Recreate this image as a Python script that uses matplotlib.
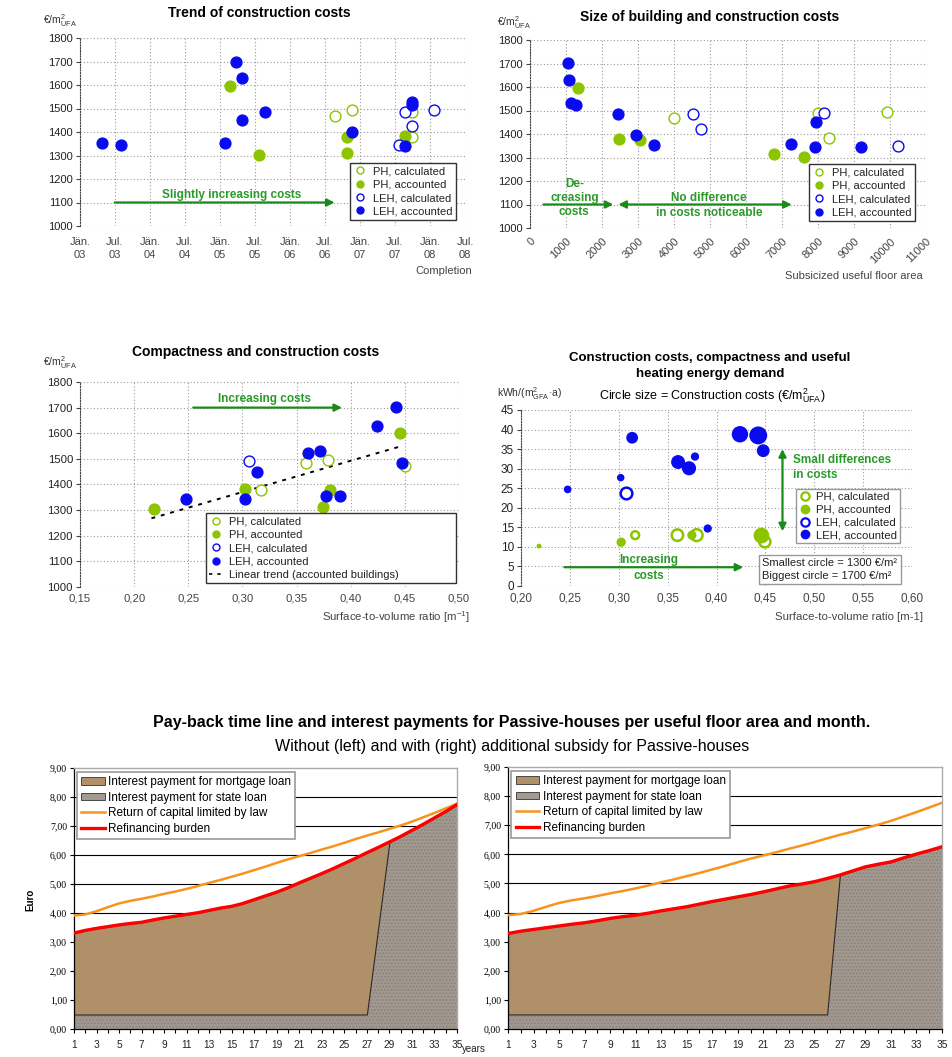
import numpy as np
import pandas as pd
import matplotlib
matplotlib.use("Agg")
import matplotlib.pyplot as plt
import matplotlib.dates as mdates
from matplotlib.lines import Line2D
from matplotlib.patches import Patch
from matplotlib.ticker import FuncFormatter

plt.rcParams['font.family'] = ['Liberation Sans', 'DejaVu Sans']
plt.rcParams['mathtext.fontset'] = 'custom'
plt.rcParams['mathtext.rm'] = 'Liberation Sans'
plt.rcParams['mathtext.it'] = 'Liberation Sans:italic'
plt.rcParams['mathtext.bf'] = 'Liberation Sans:bold'
plt.rcParams['hatch.linewidth'] = 1.0

W, H = 953, 1057

GREEN = '#8cc400'
BLUE = '#0a0af0'
ARROW = '#1a8a1a'
GRID = '#9a9a9a'
ORANGE = '#f7941d'
RED = '#ff0000'
PAPER = '#b09068'
GRANITE = '#a39a92'

# ---------- Trend of construction costs (completion date / cost) ----------
ph_calc_dates = ['2006-08-21', '2006-11-21', '2007-09-28', '2007-09-28']
ph_calc_cost = [1467, 1495, 1380, 1487]
ph_acc_dates = ['2005-02-21', '2005-07-25', '2006-10-25', '2006-10-25', '2007-08-25']
ph_acc_cost = [1597, 1302, 1377, 1310, 1382]
leh_calc_dates = ['2007-07-21', '2007-08-21', '2007-09-28', '2008-01-21']
leh_calc_cost = [1343, 1487, 1427, 1493]
leh_acc_dates = ['2003-04-28', '2003-08-01', '2005-01-28', '2005-03-25', '2005-04-25',
                 '2005-04-25', '2005-08-25', '2006-11-21', '2007-08-25', '2007-09-28', '2007-09-28']
leh_acc_cost = [1355, 1345, 1355, 1700, 1628, 1450, 1483, 1398, 1340, 1528, 1515]
date_ticklabels = ['Jän.\n03', 'Jul.\n03', 'Jän.\n04', 'Jul.\n04', 'Jän.\n05', 'Jul.\n05',
                   'Jän.\n06', 'Jul.\n06', 'Jän.\n07', 'Jul.\n07', 'Jän.\n08', 'Jul.\n08']

# ---------- Size of building (subsidized useful floor area / cost) ----------
ph_calc_area = [4000, 8009, 8315, 9926]
ph_calc_area_cost = [1467, 1488, 1382, 1494]
ph_acc_area = [1324, 2463, 3065, 6778, 7611]
ph_acc_area_cost = [1597, 1379, 1375, 1314, 1301]
leh_calc_area = [4537, 4741, 8167, 10213]
leh_calc_area_cost = [1484, 1423, 1491, 1347]
leh_acc_area = [1046, 1093, 1130, 1278, 2444, 2935, 3435, 7250, 7917, 7944, 9185]
leh_acc_area_cost = [1701, 1629, 1531, 1522, 1484, 1395, 1354, 1357, 1343, 1449, 1343]

# ---------- Compactness (surface-to-volume ratio / cost) ----------
ph_calc_sv = [0.3176, 0.359, 0.379, 0.4498]
ph_calc_sv_cost = [1380, 1485, 1497, 1471]
ph_acc_sv = [0.2186, 0.302, 0.374, 0.3806, 0.4458]
ph_acc_sv_cost = [1303, 1381, 1312, 1377, 1600]
leh_calc_sv = [0.306]
leh_calc_sv_cost = [1493]
leh_acc_sv = [0.2478, 0.302, 0.3136, 0.3607, 0.3714, 0.377, 0.3905, 0.4243, 0.442, 0.4474]
leh_acc_sv_cost = [1345, 1342, 1449, 1523, 1531, 1357, 1357, 1628, 1702, 1484]
trend_sv = [0.216, 0.447]
trend_cost = [1268, 1550]

# ---------- Bubbles: s/v ratio, heating demand, cost ----------
b_ph_calc_sv = [0.3168, 0.360, 0.3797, 0.4495]
b_ph_calc_heat = [13.0, 13.0, 13.0, 11.3]
b_ph_calc_cost = [1380, 1485, 1497, 1471]
b_ph_acc_sv = [0.2184, 0.3025, 0.3748, 0.446]
b_ph_acc_heat = [10.2, 11.2, 13.0, 12.9]
b_ph_acc_cost = [1303, 1381, 1377, 1600]
b_leh_calc_sv = [0.3072]
b_leh_calc_heat = [23.7]
b_leh_calc_cost = [1493]
b_leh_acc_sv = [0.2477, 0.302, 0.3137, 0.3607, 0.3719, 0.378, 0.391, 0.424, 0.4427, 0.4478]
b_leh_acc_heat = [24.7, 27.7, 37.9, 31.7, 30.1, 33.1, 14.7, 38.8, 38.5, 34.6]
b_leh_acc_cost = [1345, 1342, 1449, 1523, 1531, 1357, 1357, 1628, 1702, 1484]

# ---------- Pay-back time line (Euro per m2 and month) ----------
years = list(range(1, 36))
capital_return = [3.91, 3.95, 4.06, 4.20, 4.33, 4.42, 4.49, 4.57, 4.66, 4.74,
                  4.83, 4.93, 5.04, 5.14, 5.25, 5.36, 5.48, 5.60, 5.73, 5.85,
                  5.96, 6.07, 6.19, 6.30, 6.42, 6.55, 6.67, 6.78, 6.90, 7.02,
                  7.15, 7.30, 7.45, 7.61, 7.77]
refin_left = [3.31, 3.40, 3.47, 3.53, 3.59, 3.64, 3.68, 3.76, 3.83, 3.89,
              3.95, 4.01, 4.09, 4.17, 4.23, 4.33, 4.46, 4.59, 4.72, 4.87,
              5.04, 5.20, 5.36, 5.53, 5.71, 5.89, 6.08, 6.26, 6.45, 6.64,
              6.85, 7.06, 7.28, 7.50, 7.74]
state_left = [0.5] * 27 + [3.47, 6.45, 6.64, 6.85, 7.06, 7.28, 7.50, 7.74]
refin_right = [3.28, 3.36, 3.42, 3.48, 3.54, 3.60, 3.65, 3.72, 3.80, 3.86,
               3.91, 3.98, 4.06, 4.13, 4.20, 4.29, 4.38, 4.46, 4.54, 4.62,
               4.71, 4.81, 4.91, 4.98, 5.06, 5.17, 5.29, 5.43, 5.57, 5.66,
               5.74, 5.88, 6.01, 6.13, 6.26]
state_right = [0.5] * 26 + [5.29, 5.43, 5.57, 5.66, 5.74, 5.88, 6.01, 6.13, 6.26]


def fpos(x, y):
    return x / W, 1 - y / H


def add_axes_px(left, top, right, bottom):
    return fig.add_axes([left / W, 1 - bottom / H, (right - left) / W, (bottom - top) / H])


def style_scatter(ax, ysize=8):
    for s in ['top', 'right', 'bottom']:
        ax.spines[s].set_visible(False)
    ax.spines['left'].set_linestyle((0, (1, 1.5)))
    ax.spines['left'].set_color('#444')
    ax.grid(True, color=GRID, linestyle=(0, (1, 2)), linewidth=0.8)
    ax.set_axisbelow(True)
    ax.tick_params(axis='y', length=3, width=0.8, color='#444', pad=2, labelsize=ysize, labelcolor='#222')
    ax.tick_params(axis='x', length=0, labelsize=ysize, labelcolor='#444')


def cost_legend(ax, anchor, extra=None, mode=None, fs=8):
    handles = [Line2D([], [], ls='none', marker='o', ms=5, mfc='white', mec=GREEN, mew=1.0),
               Line2D([], [], ls='none', marker='o', ms=5, mfc=GREEN, mec=GREEN),
               Line2D([], [], ls='none', marker='o', ms=5, mfc='white', mec=BLUE, mew=1.0),
               Line2D([], [], ls='none', marker='o', ms=5, mfc=BLUE, mec=BLUE)]
    labels = ['PH, calculated', 'PH, accounted', 'LEH, calculated', 'LEH, accounted']
    if extra is not None:
        handles.append(extra[0])
        labels.append(extra[1])
    leg = ax.legend(handles, labels, loc='upper left', bbox_to_anchor=anchor, borderaxespad=0,
                    fancybox=False, edgecolor='#333', fontsize=fs, handlelength=1.2,
                    handletextpad=0.6, labelspacing=0.3, borderpad=0.3, mode=mode, framealpha=1)
    leg.get_frame().set_linewidth(1.0)
    for t in leg.get_texts():
        t.set_color('#222')
    return leg


def arrow(ax, x0, x1, y0, y1, style='-|>'):
    ax.annotate('', xy=(x1, y1), xytext=(x0, y0),
                arrowprops=dict(arrowstyle=style, color=ARROW, lw=1.6, mutation_scale=11,
                                shrinkA=0, shrinkB=0))


def scatter_open(ax, x, y, color, ms=7.8):
    ax.plot(x, y, ls='none', marker='o', ms=ms, mfc='white', mec=color, mew=1.0, zorder=3)


def scatter_fill(ax, x, y, color, ms=7.8):
    ax.plot(x, y, ls='none', marker='o', ms=ms, mfc=color, mec=color, zorder=3)


fig = plt.figure(figsize=(W / 100, H / 100), dpi=100)
UFA = '€/m$^{2}_{\\mathrm{UFA}}$'

# ===== chart 1 =====
ax1 = add_axes_px(80, 38, 465, 226)
style_scatter(ax1)
scatter_open(ax1, pd.to_datetime(ph_calc_dates), ph_calc_cost, GREEN)
scatter_fill(ax1, pd.to_datetime(ph_acc_dates), ph_acc_cost, GREEN)
scatter_open(ax1, pd.to_datetime(leh_calc_dates), leh_calc_cost, BLUE)
scatter_fill(ax1, pd.to_datetime(leh_acc_dates), leh_acc_cost, BLUE)
ticks = pd.date_range('2003-01-01', '2008-07-01', freq='6MS')
ax1.set_xticks(ticks)
ax1.set_xticklabels(date_ticklabels, linespacing=1.3)
ax1.tick_params(axis='x', pad=8)
ax1.set_xlim(ticks[0], ticks[-1])
ax1.set_ylim(1000, 1800)
ax1.set_yticks(range(1000, 1801, 100))
d0, d1, dm = mdates.date2num(pd.to_datetime(['2003-07-01', '2006-08-21', '2005-03-01']))
arrow(ax1, d0, d1, 1100, 1100)
ax1.text(dm, 1134, 'Slightly increasing costs', color='#2a9a2a', fontsize=8.5,
         fontweight='bold', ha='center', va='center')
cost_legend(ax1, (0.701, 0.335))
fig.text(*fpos(259, 13), 'Trend of construction costs', fontsize=10, fontweight='bold', ha='center', va='center')
fig.text(*fpos(43, 21), UFA, fontsize=7.5, ha='left', va='center', color='#333')
fig.text(*fpos(472, 271), 'Completion', fontsize=8, ha='right', va='center', color='#444')

# ===== chart 2 =====
ax2 = add_axes_px(530, 40, 926, 228)
style_scatter(ax2)
scatter_open(ax2, ph_calc_area, ph_calc_area_cost, GREEN)
scatter_fill(ax2, ph_acc_area, ph_acc_area_cost, GREEN)
scatter_open(ax2, leh_calc_area, leh_calc_area_cost, BLUE)
scatter_fill(ax2, leh_acc_area, leh_acc_area_cost, BLUE)
ax2.set_xlim(0, 11000)
ax2.set_xticks(range(0, 11001, 1000))
ax2.set_xticklabels([str(v) for v in range(0, 11001, 1000)], rotation=45, ha='right',
                    rotation_mode='anchor')
ax2.tick_params(axis='x', pad=6)
ax2.set_ylim(1000, 1800)
ax2.set_yticks(range(1000, 1801, 100))
arrow(ax2, 370, 2315, 1100, 1100)
arrow(ax2, 2454, 7269, 1100, 1100, style='<|-|>')
ax2.text(1231, 1128, 'De-\ncreasing\ncosts', color='#2a9a2a', fontsize=8.5, fontweight='bold',
         ha='center', va='center', linespacing=1.25)
ax2.text(4972, 1096, 'No difference\nin costs noticeable', color='#2a9a2a', fontsize=8.5,
         fontweight='bold', ha='center', va='center', linespacing=1.25)
cost_legend(ax2, (0.7045, 0.340))
fig.text(*fpos(710, 17), 'Size of building and construction costs', fontsize=10, fontweight='bold',
         ha='center', va='center')
fig.text(*fpos(497, 23), UFA, fontsize=7.5, ha='left', va='center', color='#333')
fig.text(*fpos(923, 276), 'Subsicized useful floor area', fontsize=8, ha='right', va='center', color='#444')

comma2 = FuncFormatter(lambda v, p: f'{v:.2f}'.replace('.', ','))

# ===== chart 3 =====
ax3 = add_axes_px(80, 382, 459, 587)
style_scatter(ax3, ysize=8.2)
scatter_open(ax3, ph_calc_sv, ph_calc_sv_cost, GREEN)
scatter_fill(ax3, ph_acc_sv, ph_acc_sv_cost, GREEN)
scatter_open(ax3, leh_calc_sv, leh_calc_sv_cost, BLUE)
scatter_fill(ax3, leh_acc_sv, leh_acc_sv_cost, BLUE)
ax3.plot(trend_sv, trend_cost, color='black', lw=1.4, ls=(0, (2, 3)), zorder=2)
ax3.set_xlim(0.15, 0.50)
ax3.set_xticks(np.arange(0.15, 0.501, 0.05))
ax3.xaxis.set_major_formatter(comma2)
ax3.tick_params(axis='x', pad=5)
ax3.set_ylim(1000, 1800)
ax3.set_yticks(range(1000, 1801, 100))
arrow(ax3, 0.2546, 0.392, 1700, 1700)
ax3.text(0.3207, 1735, 'Increasing costs', color='#2a9a2a', fontsize=8.5, fontweight='bold',
         ha='center', va='center')
trend_handle = Line2D([], [], color='black', lw=1.2, ls=(0, (2, 3)))
cost_legend(ax3, (0.332, 0.0, 0.66, 0.36), extra=(trend_handle, 'Linear trend (accounted buildings)'),
            mode='expand')
fig.text(*fpos(256, 352), 'Compactness and construction costs', fontsize=10, fontweight='bold',
         ha='center', va='center')
fig.text(*fpos(43, 363), UFA, fontsize=7.5, ha='left', va='center', color='#333')
fig.text(*fpos(470, 617), 'Surface-to-volume ratio [m$^{-1}$]', fontsize=8.2, ha='right', va='center',
         color='#444')

# ===== chart 4 =====
def bubble_size(cost):
    return 0.34 * (np.array(cost) - 1285)


ax4 = add_axes_px(521, 410, 912, 586)
style_scatter(ax4, ysize=8.5)
ax4.scatter(b_ph_calc_sv, b_ph_calc_heat, s=bubble_size(b_ph_calc_cost), facecolors='white',
            edgecolors=GREEN, linewidths=1.8, zorder=3)
ax4.scatter(b_ph_acc_sv, b_ph_acc_heat, s=bubble_size(b_ph_acc_cost), color=GREEN, zorder=3)
ax4.scatter(b_leh_calc_sv, b_leh_calc_heat, s=bubble_size(b_leh_calc_cost), facecolors='white',
            edgecolors=BLUE, linewidths=1.8, zorder=3)
ax4.scatter(b_leh_acc_sv, b_leh_acc_heat, s=bubble_size(b_leh_acc_cost), color=BLUE, zorder=3)
ax4.set_xlim(0.20, 0.60)
ax4.set_xticks(np.arange(0.20, 0.601, 0.05))
ax4.xaxis.set_major_formatter(comma2)
ax4.tick_params(axis='x', pad=5)
ax4.set_ylim(0, 45)
ax4.set_yticks(range(0, 46, 5))
arrow(ax4, 0.4675, 0.4675, 14.0, 35.0, style='<|-|>')
ax4.text(0.4778, 30.3, 'Small differences\nin costs', color='#2a9a2a', fontsize=8.5, fontweight='bold',
         ha='left', va='center', linespacing=1.35)
arrow(ax4, 0.2443, 0.4274, 4.8, 4.8)
ax4.text(0.3304, 4.6, 'Increasing\ncosts', color='#2a9a2a', fontsize=8.5, fontweight='bold',
         ha='center', va='center', linespacing=1.35)
bh = [Line2D([], [], ls='none', marker='o', ms=6, mfc='white', mec=GREEN, mew=1.6),
      Line2D([], [], ls='none', marker='o', ms=6, mfc=GREEN, mec=GREEN),
      Line2D([], [], ls='none', marker='o', ms=6, mfc='white', mec=BLUE, mew=1.6),
      Line2D([], [], ls='none', marker='o', ms=6, mfc=BLUE, mec=BLUE)]
leg4 = ax4.legend(bh, ['PH, calculated', 'PH, accounted', 'LEH, calculated', 'LEH, accounted'],
                  loc='upper left', bbox_to_anchor=(0.7036, 0.551), borderaxespad=0, fancybox=False,
                  edgecolor='#999', fontsize=8.2, handlelength=1.0, handletextpad=0.5,
                  labelspacing=0.25, borderpad=0.25, framealpha=1)
for t in leg4.get_texts():
    t.set_color('#222')
ax4.text(0.617, 0.03, 'Smallest circle = 1300 €/m²\nBiggest circle = 1700 €/m²', transform=ax4.transAxes,
         fontsize=8, color='#222', ha='left', va='bottom', linespacing=1.3,
         bbox=dict(boxstyle='square,pad=0.3', fc='white', ec='#999', lw=1.0), zorder=5)
fig.text(*fpos(710, 366), 'Construction costs, compactness and useful\nheating energy demand', fontsize=9.5,
         fontweight='bold', ha='center', va='center', linespacing=1.5)
fig.text(*fpos(712, 396), 'Circle size = Construction costs (€/m$^{2}_{\\mathrm{UFA}}$)', fontsize=9,
         ha='center', va='center')
fig.text(*fpos(497, 394), 'kWh/(m$^{2}_{\\mathrm{GFA}}$·a)', fontsize=7.5, ha='left', va='center', color='#333')
fig.text(*fpos(923, 617), 'Surface-to-volume ratio [m-1]', fontsize=8.2, ha='right', va='center', color='#444')

# ===== pay-back charts =====
comma_y = FuncFormatter(lambda v, p: f'{v:.2f}'.replace('.', ','))


def payback(ax, state, refin):
    ax.set_xlim(1, 35)
    ax.set_ylim(0, 9)
    for v in range(1, 9):
        ax.axhline(v, color='black', lw=0.8, zorder=0)
    ax.fill_between(years, 0, state, facecolor=GRANITE, edgecolor='#8c8279', hatch='.....',
                    lw=0, zorder=1)
    ax.fill_between(years, state, refin, facecolor=PAPER, edgecolor='#2a2a2a', lw=0.8, zorder=2)
    ax.plot(years, capital_return, color=ORANGE, lw=1.8, zorder=3)
    ax.plot(years, refin, color=RED, lw=2.4, zorder=4)
    ax.set_yticks(range(0, 10))
    ax.yaxis.set_major_formatter(comma_y)
    ax.set_xticks(years)
    ax.set_xticklabels([str(y) if y % 2 == 1 else '' for y in years])
    ax.tick_params(axis='y', length=3, width=0.8, pad=2, labelsize=7)
    ax.tick_params(axis='x', length=3, width=0.8, pad=5, labelsize=7.3, labelcolor='#222')
    for t in ax.get_yticklabels():
        t.set_fontfamily('Liberation Serif')
    for s in ['top', 'right']:
        ax.spines[s].set_color('#aaaaaa')
        ax.spines[s].set_linewidth(1.0)
    ax.spines['left'].set_linewidth(0.9)
    ax.spines['bottom'].set_linewidth(0.9)
    handles = [Patch(facecolor=PAPER, edgecolor='#333', lw=0.6),
               Patch(facecolor=GRANITE, edgecolor='#333', lw=0.6),
               Line2D([], [], color=ORANGE, lw=1.8),
               Line2D([], [], color=RED, lw=2.4)]
    labels = ['Interest payment for mortgage loan', 'Interest payment for state loan',
              'Return of capital limited by law', 'Refinancing burden']
    leg = ax.legend(handles, labels, loc='upper left', bbox_to_anchor=(0.008, 0.985), borderaxespad=0,
                    fancybox=False, edgecolor='#999', fontsize=8.5, handlelength=2.0, handleheight=0.6,
                    handletextpad=0.3, labelspacing=0.3, borderpad=0.35, framealpha=1)
    leg.get_frame().set_linewidth(1.2)
    leg.set_zorder(6)


ax5 = add_axes_px(74, 768, 457, 1029)
payback(ax5, state_left, refin_left)
ax6 = add_axes_px(508, 767, 942, 1029)
payback(ax6, state_right, refin_right)

fig.text(*fpos(512, 723), 'Pay-back time line and interest payments for Passive-houses per useful floor area and month.',
         fontsize=11.5, fontweight='bold', ha='center', va='center')
fig.text(*fpos(512, 746), 'Without (left) and with (right) additional subsidy for Passive-houses',
         fontsize=11.5, ha='center', va='center')
fig.text(*fpos(30, 900), 'Euro', rotation=90, fontsize=7, fontweight='bold', ha='center', va='center')
fig.text(*fpos(462, 1049), 'years', fontsize=7, ha='left', va='center', color='#222')

fig.savefig('out.png', dpi=100)
